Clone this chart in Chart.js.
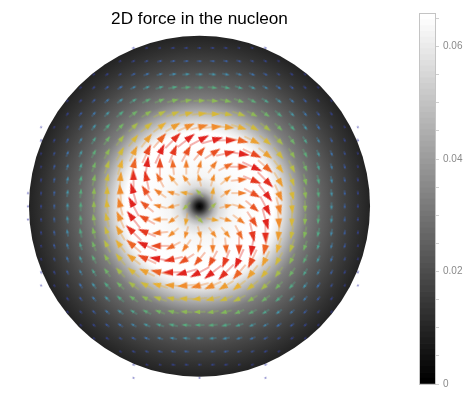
<!DOCTYPE html>
<html>
<head>
<meta charset="utf-8">
<style>
html,body{margin:0;padding:0;background:#fff;width:470px;height:414px;overflow:hidden}
#wrapA{position:absolute;left:0;top:0;width:399px;height:414px}
#wrapB{position:absolute;left:400px;top:0;width:70px;height:414px}
</style>
<script src="https://cdn.jsdelivr.net/npm/chart.js@4"></script>
</head>
<body>
<div id="wrapA"><canvas id="disk" width="399" height="414"></canvas></div>
<div id="wrapB"><canvas id="bar" width="70" height="414"></canvas></div>
<script>
const titleText = "2D force in the nucleon";

// Force field, rows j = 0..12 below the centre, columns i = 1..12 right of it.
// The picture has four-fold symmetry, the other three quarters are the same table turned by 90 degrees.
const forceAngle = [
 [-45,-15,15,40,62,75,84,88,90,90,90,90],
 [10,17,36,57,74,85,92,95,96,96,95,95],
 [53,50,62,77,89,95,101,103,103,101,100,99],
 [90,84,90,99,103,107,109,110,108,107,105,104],
 [119,113,115,115,116,119,118,117,114,112,110,108],
 [142,135,131,128,129,127,125,122,119,117,114,113],
 [156,149,143,141,137,134,131,127,124,121,119],
 [166,159,153,148,144,139,135,131,128,125],
 [171,165,158,153,148,143,139,135,132,129],
 [174,168,162,156,151,146,142,138,135],
 [174,169,163,158,153,149,145,141],
 [175,170,165,160,156,151],
 [175,171,166,162,157]
];
const forceMagnitude = [
 [10,12,13,16,20,17,14,11,9,7,5,4],
 [12,12,14,17,20,17,14,11,9,7,5,4],
 [12,13,15,18,20,16,13,11,9,7,5,4],
 [14,15,17,20,18,15,13,10,8,6,5,3],
 [17,18,20,19,16,14,11,9,7,6,4,3],
 [20,20,18,16,14,12,10,8,6,5,4,3],
 [17,16,15,14,12,10,9,7,6,4,3],
 [14,13,13,11,10,9,7,6,5,4],
 [11,11,10,9,8,7,6,5,4,3],
 [9,9,8,7,6,6,5,4,3],
 [7,7,6,6,5,4,4,3],
 [5,5,5,4,4,3],
 [4,4,3,3,3]
];
const forceLevel = [
 [.55,.8,.82,.91,1,.82,.67,.53,.4,.3,.2,.12],
 [.74,.8,.83,.92,1,.8,.66,.52,.41,.3,.2,.12],
 [.8,.8,.87,.96,.98,.76,.63,.5,.39,.28,.19,.11],
 [.83,.87,.93,1,.88,.71,.59,.47,.36,.26,.17,.1],
 [.92,.96,1,.93,.75,.64,.52,.42,.32,.23,.15,.09],
 [1,.98,.88,.75,.66,.56,.46,.37,.27,.19,.12,.06],
 [.8,.76,.71,.64,.56,.47,.39,.3,.22,.15,.09],
 [.66,.63,.59,.52,.46,.39,.31,.24,.17,.11],
 [.52,.5,.47,.42,.37,.3,.24,.18,.12,.08],
 [.41,.39,.36,.32,.27,.22,.17,.12,.08],
 [.3,.28,.26,.23,.19,.15,.11,.08],
 [.2,.19,.17,.15,.12,.09],
 [.12,.11,.1,.09,.06]
];
// The few tiny arrows on or past the disk edge: i, j, angle
const strayI = [12,-12,-12,12,5,-5,0,-13,-13,-13];
const strayJ = [6,6,-6,-6,13,13,13,-1,0,1];
const strayAngle = [117,243,297,63,159,201,180,274,270,266];
const strayMagnitude = [2,2,2,2,2,2,2,2,2,2];
const strayLevel = [.04,.04,.04,.04,.04,.04,.04,.04,.04,.04];

// Disk shade against distance from the centre (grid units)
const diskRadius = [0,.23,.45,.76,1.14,1.52,2.27,3.41,4.55,5.61,6.14,6.89,7.5,8.11,9.39,10.68,11.89,12.92];
const diskShade = [0,20,60,125,185,220,245,252,255,255,235,190,155,125,95,70,50,35];
const diskEdge = 12.92;

// Arrow colours against level
const levelStops = [0,.1,.2,.3,.4,.5,.6,.7,.8,.9,1];
const levelColors = [[50,40,160],[55,70,175],[60,105,185],[70,150,170],[85,170,130],[130,185,90],[190,190,65],[232,180,50],[240,140,45],[235,90,35],[225,35,30]];

// Colour bar
const colorbarGrays = [0,4,8,12,16,20,24,28,32,36,40,45,49,53,57,61,65,69,73,77,81,85,89,93,97,101,105,109,113,117,121,125,130,134,138,142,146,150,154,158,162,166,170,174,178,182,186,190,194,198,202,206,210,215,219,223,227,231,235,239,243,247,251,255];
const colorbarMax = 0.0658;
const colorbarTicks = [0,.005,.01,.015,.02,.025,.03,.035,.04,.045,.05,.055,.06,.065];
const colorbarLabels = {"0":"0","0.02":"0.02","0.04":"0.04","0.06":"0.06"};

const FONT = "'Liberation Sans', Arial, sans-serif";

function colorFor(level){
  let k = 0;
  while (k < levelStops.length-2 && level > levelStops[k+1]) k++;
  const t = Math.max(0,Math.min(1,(level-levelStops[k])/(levelStops[k+1]-levelStops[k])));
  return levelColors[k].map((c,n)=>Math.round(c+(levelColors[k+1][n]-c)*t));
}

const spriteCache = {};
function arrowSprite(mag, level){
  const key = mag+"_"+level;
  if (spriteCache[key]) return spriteCache[key];
  const len = mag*1.1;
  const w = Math.ceil(len)+4, h = 12;
  const c = document.createElement("canvas");
  c.width = w; c.height = h;
  const g = c.getContext("2d");
  const rgb = colorFor(level).join(",");
  const headLen = Math.min(11, len*0.55);
  const headW = Math.min(7, headLen*0.66);
  const x0 = (w-len)/2, x1 = x0+len, cy = h/2;
  g.strokeStyle = "rgba("+rgb+",0.7)";
  g.lineWidth = 1;
  g.beginPath(); g.moveTo(x0,cy); g.lineTo(x1-headLen+1,cy); g.stroke();
  g.fillStyle = "rgb("+rgb+")";
  g.beginPath(); g.moveTo(x1,cy); g.lineTo(x1-headLen,cy-headW/2); g.lineTo(x1-headLen,cy+headW/2); g.closePath(); g.fill();
  spriteCache[key] = c;
  return c;
}

const points = [];
forceAngle.forEach((row,rowIdx)=>{
  row.forEach((ang,colIdx)=>{
    let i = colIdx+1, j = rowIdx, a = ang;
    for (let q=0;q<4;q++){
      points.push({x:i, y:-j, angle:a, mag:forceMagnitude[rowIdx][colIdx], level:forceLevel[rowIdx][colIdx]});
      const ni = -j, nj = i; i = ni; j = nj; a += 90;
    }
  });
});
strayI.forEach((v,k)=>points.push({x:v,y:-strayJ[k],angle:strayAngle[k],mag:strayMagnitude[k],level:strayLevel[k]}));

const diskPlugin = {
  id:"disk",
  beforeDatasetsDraw(chart){
    const {ctx,scales:{x,y}} = chart;
    const cx = x.getPixelForValue(0), cy = y.getPixelForValue(0);
    const R = x.getPixelForValue(diskEdge)-cx;
    const gr = ctx.createRadialGradient(cx,cy,0,cx,cy,R);
    diskRadius.forEach((r,k)=>{ const s = diskShade[k]; gr.addColorStop(r/diskEdge,"rgb("+s+","+s+","+s+")"); });
    ctx.save();
    ctx.fillStyle = gr;
    ctx.beginPath(); ctx.arc(cx,cy,R,0,Math.PI*2); ctx.fill();
    ctx.restore();
  }
};

new Chart(document.getElementById("disk"),{
  type:"scatter",
  data:{datasets:[{
    data:points,
    pointRadius:4,
    pointHoverRadius:4,
    pointStyle:c=>{const p=c.raw; return p?arrowSprite(p.mag,p.level):"circle";},
    rotation:c=>c.raw?c.raw.angle:0,
    clip:false
  }]},
  options:{
    responsive:false,animation:false,
    layout:{padding:0,autoPadding:false},
    events:[],
    plugins:{
      legend:{display:false},tooltip:{enabled:false},
      title:{display:true,text:titleText,color:"#000",font:{family:FONT,size:17.2,weight:"normal",lineHeight:1.2},padding:{top:9.4,bottom:0}}
    },
    scales:{
      x:{type:"linear",display:false,min:-15.114,max:15.114},
      y:{type:"linear",display:false,min:-15.735,max:13.356}
    }
  },
  plugins:[diskPlugin]
});

const framePlugin = {
  id:"frame",
  afterDraw(chart){
    const a = chart.chartArea, ctx = chart.ctx;
    ctx.save(); ctx.strokeStyle="#c4c4c4"; ctx.lineWidth=1;
    ctx.strokeRect(Math.round(a.left)-.5,Math.round(a.top)-.5,Math.round(a.right-a.left)+1,Math.round(a.bottom-a.top)+1);
    ctx.restore();
  }
};

new Chart(document.getElementById("bar"),{
  type:"bar",
  data:{
    labels:[""],
    datasets:colorbarGrays.map(s=>({data:[colorbarMax/colorbarGrays.length],backgroundColor:"rgb("+s+","+s+","+s+")",borderWidth:0,barPercentage:1,categoryPercentage:1}))
  },
  options:{
    responsive:false,animation:false,events:[],
    layout:{padding:{left:20,top:14,bottom:30,right:0},autoPadding:false},
    plugins:{legend:{display:false},tooltip:{enabled:false}},
    scales:{
      x:{stacked:true,display:false},
      y:{
        stacked:true,position:"right",min:0,max:colorbarMax,
        afterBuildTicks:s=>{s.ticks=colorbarTicks.map(v=>({value:v}));},
        afterFit:s=>{s.width=35;},
        border:{display:false},
        grid:{drawOnChartArea:false,drawTicks:true,tickLength:4,tickColor:"#cfcfcf"},
        ticks:{autoSkip:false,color:"#8a8a8a",padding:4,maxRotation:0,font:{family:FONT,size:10},
          callback:v=>{const t=String(+(+v).toFixed(3));return colorbarLabels[t]!==undefined?colorbarLabels[t]:"";}}
      }
    }
  },
  plugins:[framePlugin]
});
</script>
</body>
</html>
